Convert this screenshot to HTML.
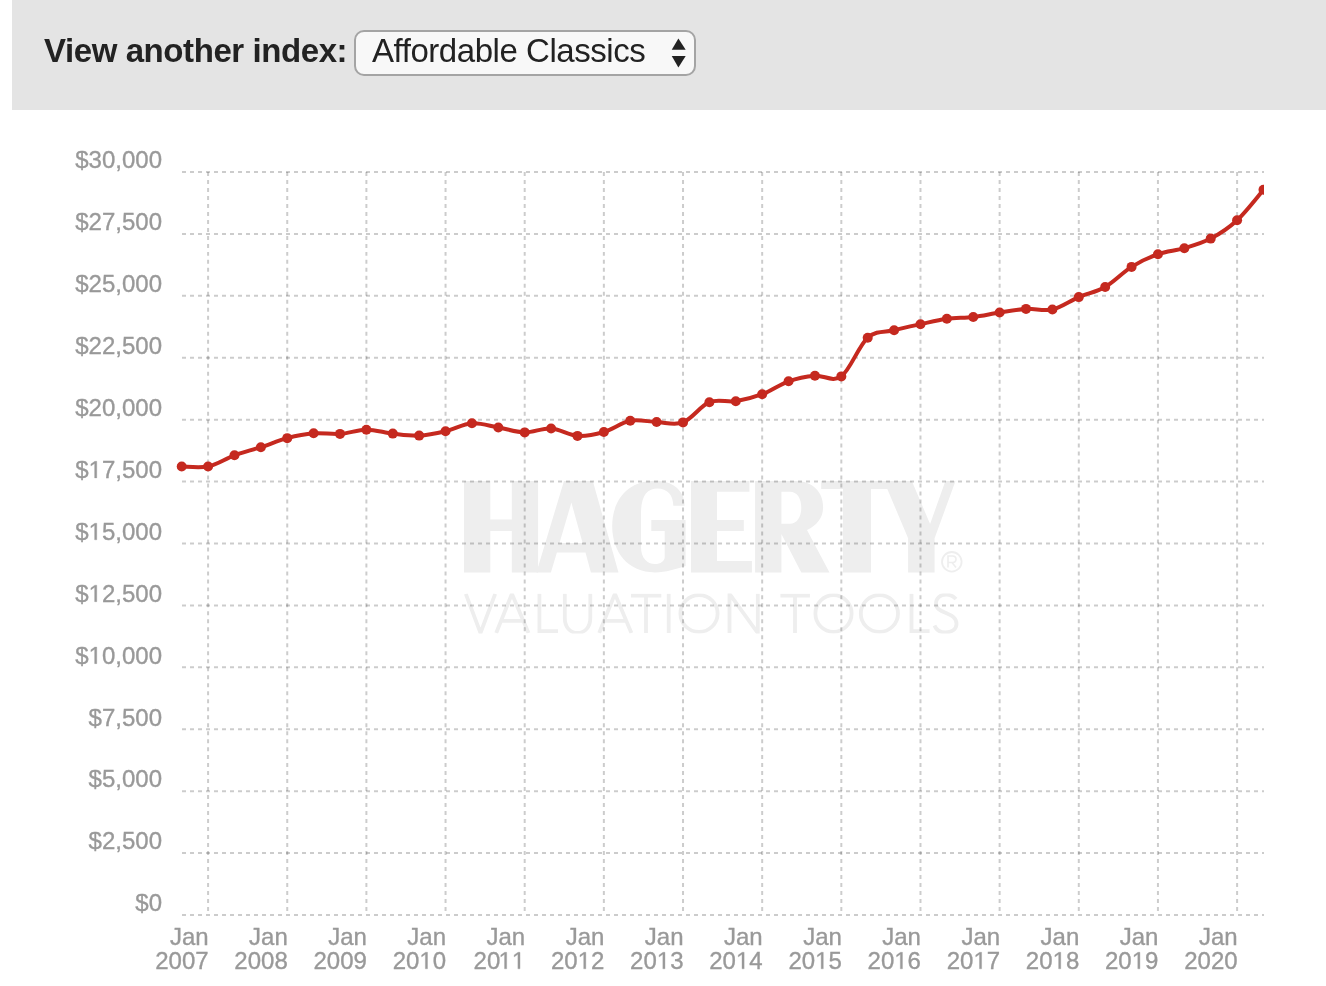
<!DOCTYPE html>
<html><head><meta charset="utf-8"><style>
html,body{margin:0;padding:0;background:#fff;width:1326px;height:986px;overflow:hidden;position:relative}
*{box-sizing:border-box}
.hdr{position:absolute;left:12px;top:0;width:1314px;height:110px;background:#e4e4e4}
.lbl{position:absolute;left:44px;top:32px;font:bold 33px "Liberation Sans",sans-serif;letter-spacing:-0.42px;color:#222;white-space:nowrap;line-height:38px;will-change:transform}
.sel{position:absolute;left:354px;top:30px;width:342px;height:46px;border:2px solid #a4a4a4;border-radius:10px;background:#f8f8f8}
.selt{position:absolute;left:372px;top:32px;font:33px "Liberation Sans",sans-serif;letter-spacing:-0.45px;color:#222;white-space:nowrap;line-height:38px;will-change:transform}
svg{position:absolute;left:0;top:0;will-change:transform}
.grid line{stroke:rgba(0,0,0,0.2);stroke-width:2;stroke-dasharray:4 4}
.grid line.v{stroke-dasharray:3.994 3.994}
.lab{font:24px "Liberation Sans",sans-serif;fill:#999;stroke:#999;stroke-width:0.35px}
.lab .h{fill:none;stroke:none}
.lab path{vector-effect:non-scaling-stroke}
</style></head><body>
<div class="hdr"></div>
<div class="lbl">View another index:</div>
<div class="sel"></div>
<div class="selt">Affordable Classics</div>
<svg width="1326" height="986" viewBox="0 0 1326 986">
 <polygon points="671.75,49.8 685.7,49.8 678.4,38.4" fill="#222"/>
 <polygon points="671.75,56 685.7,56 678.4,67.4" fill="#222"/>
 
<g fill="#eeeeee">
 <!-- H -->
 <path d="M464,481 H490.3 V519.6 H511.8 V481 H538.1 V572.4 H511.8 V531 H490.3 V572.4 H464 Z"/>
 <!-- A -->
 <path fill-rule="evenodd" d="M564,481 H592.8 L618.5,572.4 H590.9 L585.5,552.6 H556.9 L550.9,572.4 H536.4 Z M571.4,502.6 L582.6,542.9 H559.5 Z"/>
 <!-- G -->
 <path fill-rule="evenodd" d="M685.6,520.1 V566 C676,569 666,572.4 655,572.4 C628,572.4 612.2,552 612.2,526.3 C612.2,500 628,480.8 655,480.8 C672,480.8 684.6,490 684.6,505.8 H673.3 C673.3,495 667,488.5 657.7,488.5 C647,488.5 641,496 641,513.5 V546.8 C641,558 647,564.1 655.1,564.1 C660.5,564.1 664.7,561 664.7,557 V531 H651.3 V520.1 Z"/>
 <!-- E -->
 <path d="M691,481 H749.4 V491.7 H717 V520.1 H743.8 V531 H717 V560.9 H751.9 V572.4 H691 Z"/>
 <!-- R -->
 <path fill-rule="evenodd" d="M755.1,481 H795 C813,481 823.1,492 823.1,507 C823.1,518 817,525 807,530.1 L829.5,572.4 H801.3 L781.4,534 V572.4 H755.1 Z M781.4,491.7 V523.7 H790 C797,523.7 801.3,517 801.3,507.7 C801.3,498 797,491.7 790,491.7 Z"/>
 <!-- T Y -->
 <path d="M821.2,481 H911.8 L930.1,524 L945.4,481 H955.5 L934.6,538.2 V572.4 H908.1 V538.2 L887.3,489 H871 V572.4 H843 V489 H821.2 Z"/>
</g>
<circle cx="951.8" cy="561.8" r="9.8" fill="none" stroke="#eeeeee" stroke-width="1.8"/>
<path d="M948,567.5 V556 H952.5 C955,556 956,557.5 956,559.3 C956,561 955,562.5 952.5,562.5 H948 M952,562.5 L956,567.5" fill="none" stroke="#eeeeee" stroke-width="1.6"/>
<clipPath id="vt"><rect x="440" y="593.4" width="540" height="40"/></clipPath>
<g fill="none" stroke="#eeeeee" stroke-width="3.8" stroke-linejoin="miter" clip-path="url(#vt)">
 <path d="M465.8,593.8 L480.5,633 L495.2,593.8"/>
 <path d="M496.2,633 L511.9,593.8 L528.5,633 M502,620.9 H522"/>
 <path d="M539.4,593.8 V631.1 H558"/>
 <path d="M564.8,593.8 V618 C564.8,627 570,633 577.5,633 C585,633 590.3,627 590.3,618 V593.8"/>
 <path d="M599.2,633 L614.9,593.8 L631.4,633 M605,620.9 H625"/>
 <path d="M631,595.7 H661.3 M646,595.7 V633"/>
 <path d="M668.7,593.8 V633"/>
 <ellipse cx="699" cy="613.5" rx="18.6" ry="18.4"/>
 <path d="M729.5,633 V593.8 L757.8,633 V593.8"/>
 <path d="M780.4,595.7 H809.9 M795,595.7 V633"/>
 <ellipse cx="833.5" cy="613.5" rx="18.1" ry="18.4"/>
 <ellipse cx="879.4" cy="613.5" rx="18.6" ry="18.4"/>
 <path d="M911.5,593.8 V631.1 H929.6"/>
 <path d="M956,599 C953,595.5 949.5,594.5 946,594.5 C940,594.5 936,598.5 936,603.5 C936,608.5 940,610.5 946,613 C952,615.5 956.5,618 956.5,624 C956.5,629.5 951.5,632.5 945.5,632.5 C940,632.5 936,629.5 934.5,625.5"/>
</g>

 <g class="grid"><line x1="182.00" y1="172.00" x2="1264.00" y2="172.00"/><line x1="182.00" y1="233.92" x2="1264.00" y2="233.92"/><line x1="182.00" y1="295.83" x2="1264.00" y2="295.83"/><line x1="182.00" y1="357.75" x2="1264.00" y2="357.75"/><line x1="182.00" y1="419.67" x2="1264.00" y2="419.67"/><line x1="182.00" y1="481.58" x2="1264.00" y2="481.58"/><line x1="182.00" y1="543.50" x2="1264.00" y2="543.50"/><line x1="182.00" y1="605.42" x2="1264.00" y2="605.42"/><line x1="182.00" y1="667.33" x2="1264.00" y2="667.33"/><line x1="182.00" y1="729.25" x2="1264.00" y2="729.25"/><line x1="182.00" y1="791.17" x2="1264.00" y2="791.17"/><line x1="182.00" y1="853.08" x2="1264.00" y2="853.08"/><line x1="182.00" y1="915.00" x2="1264.00" y2="915.00"/><line class="v" x1="208.08" y1="172.00" x2="208.08" y2="915.00"/><line class="v" x1="287.24" y1="172.00" x2="287.24" y2="915.00"/><line class="v" x1="366.39" y1="172.00" x2="366.39" y2="915.00"/><line class="v" x1="445.55" y1="172.00" x2="445.55" y2="915.00"/><line class="v" x1="524.70" y1="172.00" x2="524.70" y2="915.00"/><line class="v" x1="603.86" y1="172.00" x2="603.86" y2="915.00"/><line class="v" x1="683.02" y1="172.00" x2="683.02" y2="915.00"/><line class="v" x1="762.17" y1="172.00" x2="762.17" y2="915.00"/><line class="v" x1="841.33" y1="172.00" x2="841.33" y2="915.00"/><line class="v" x1="920.48" y1="172.00" x2="920.48" y2="915.00"/><line class="v" x1="999.63" y1="172.00" x2="999.63" y2="915.00"/><line class="v" x1="1078.79" y1="172.00" x2="1078.79" y2="915.00"/><line class="v" x1="1157.94" y1="172.00" x2="1157.94" y2="915.00"/><line class="v" x1="1237.10" y1="172.00" x2="1237.10" y2="915.00"/></g>
 <g class="lab" text-anchor="end"><text x="162.00" y="168.30">$30,000</text><text x="162.00" y="230.22">$27,500</text><text x="162.00" y="292.13">$25,000</text><text x="162.00" y="354.05">$22,500</text><text x="162.00" y="415.97">$20,000</text><text x="162.00" y="477.88">$<tspan class="h">1</tspan>7,500</text><path transform="translate(88.594,477.883) scale(0.011719,-0.011719)" d="M515,0 V1237 L197,1010 V1180 L530,1409 H696 V0 Z"/><text x="162.00" y="539.80">$<tspan class="h">1</tspan>5,000</text><path transform="translate(88.594,539.800) scale(0.011719,-0.011719)" d="M515,0 V1237 L197,1010 V1180 L530,1409 H696 V0 Z"/><text x="162.00" y="601.72">$<tspan class="h">1</tspan>2,500</text><path transform="translate(88.594,601.717) scale(0.011719,-0.011719)" d="M515,0 V1237 L197,1010 V1180 L530,1409 H696 V0 Z"/><text x="162.00" y="663.63">$<tspan class="h">1</tspan>0,000</text><path transform="translate(88.594,663.633) scale(0.011719,-0.011719)" d="M515,0 V1237 L197,1010 V1180 L530,1409 H696 V0 Z"/><text x="162.00" y="725.55">$7,500</text><text x="162.00" y="787.47">$5,000</text><text x="162.00" y="849.38">$2,500</text><text x="162.00" y="911.30">$0</text></g>
 <g class="lab" text-anchor="end"><text x="208.58" y="944.8">Jan</text><text x="208.58" y="968.80">2007</text><text x="287.74" y="944.8">Jan</text><text x="287.74" y="968.80">2008</text><text x="366.89" y="944.8">Jan</text><text x="366.89" y="968.80">2009</text><text x="446.05" y="944.8">Jan</text><text x="446.05" y="968.80">20<tspan class="h">1</tspan>0</text><path transform="translate(419.355,968.800) scale(0.011719,-0.011719)" d="M515,0 V1237 L197,1010 V1180 L530,1409 H696 V0 Z"/><text x="525.20" y="944.8">Jan</text><text x="525.20" y="968.80">20<tspan class="h">1</tspan><tspan class="h">1</tspan></text><path transform="translate(498.510,968.800) scale(0.011719,-0.011719)" d="M515,0 V1237 L197,1010 V1180 L530,1409 H696 V0 Z"/><path transform="translate(511.857,968.800) scale(0.011719,-0.011719)" d="M515,0 V1237 L197,1010 V1180 L530,1409 H696 V0 Z"/><text x="604.36" y="944.8">Jan</text><text x="604.36" y="968.80">20<tspan class="h">1</tspan>2</text><path transform="translate(577.665,968.800) scale(0.011719,-0.011719)" d="M515,0 V1237 L197,1010 V1180 L530,1409 H696 V0 Z"/><text x="683.52" y="944.8">Jan</text><text x="683.52" y="968.80">20<tspan class="h">1</tspan>3</text><path transform="translate(656.820,968.800) scale(0.011719,-0.011719)" d="M515,0 V1237 L197,1010 V1180 L530,1409 H696 V0 Z"/><text x="762.67" y="944.8">Jan</text><text x="762.67" y="968.80">20<tspan class="h">1</tspan>4</text><path transform="translate(735.975,968.800) scale(0.011719,-0.011719)" d="M515,0 V1237 L197,1010 V1180 L530,1409 H696 V0 Z"/><text x="841.83" y="944.8">Jan</text><text x="841.83" y="968.80">20<tspan class="h">1</tspan>5</text><path transform="translate(815.130,968.800) scale(0.011719,-0.011719)" d="M515,0 V1237 L197,1010 V1180 L530,1409 H696 V0 Z"/><text x="920.98" y="944.8">Jan</text><text x="920.98" y="968.80">20<tspan class="h">1</tspan>6</text><path transform="translate(894.285,968.800) scale(0.011719,-0.011719)" d="M515,0 V1237 L197,1010 V1180 L530,1409 H696 V0 Z"/><text x="1000.13" y="944.8">Jan</text><text x="1000.13" y="968.80">20<tspan class="h">1</tspan>7</text><path transform="translate(973.440,968.800) scale(0.011719,-0.011719)" d="M515,0 V1237 L197,1010 V1180 L530,1409 H696 V0 Z"/><text x="1079.29" y="944.8">Jan</text><text x="1079.29" y="968.80">20<tspan class="h">1</tspan>8</text><path transform="translate(1052.595,968.800) scale(0.011719,-0.011719)" d="M515,0 V1237 L197,1010 V1180 L530,1409 H696 V0 Z"/><text x="1158.44" y="944.8">Jan</text><text x="1158.44" y="968.80">20<tspan class="h">1</tspan>9</text><path transform="translate(1131.750,968.800) scale(0.011719,-0.011719)" d="M515,0 V1237 L197,1010 V1180 L530,1409 H696 V0 Z"/><text x="1237.60" y="944.8">Jan</text><text x="1237.60" y="968.80">2020</text></g>
 <defs><clipPath id="cp"><rect x="170" y="150" width="1094" height="790"/></clipPath></defs>
 <g clip-path="url(#cp)">
  <path d="M181.70,466.50 C186.10,466.50 199.29,468.37 208.08,466.50 C216.88,464.63 225.67,458.52 234.47,455.30 C243.26,452.08 252.06,450.06 260.86,447.20 C269.65,444.34 278.44,440.47 287.24,438.15 C296.04,435.83 304.83,434.01 313.62,433.30 C322.42,432.59 331.21,434.50 340.01,433.90 C348.81,433.30 357.60,429.75 366.39,429.70 C375.19,429.65 383.98,432.62 392.78,433.60 C401.57,434.58 410.37,436.00 419.16,435.60 C427.96,435.20 436.76,433.25 445.55,431.20 C454.35,429.15 463.14,423.92 471.94,423.30 C480.73,422.68 489.53,425.98 498.32,427.50 C507.12,429.02 515.91,432.23 524.70,432.40 C533.50,432.57 542.29,427.92 551.09,428.50 C559.88,429.08 568.68,435.32 577.48,435.90 C586.27,436.48 595.07,434.52 603.86,432.00 C612.65,429.48 621.45,422.47 630.25,420.80 C639.04,419.13 647.83,421.73 656.63,422.00 C665.43,422.27 674.22,425.70 683.02,422.40 C691.81,419.10 700.61,405.73 709.40,402.20 C718.20,398.67 726.99,402.53 735.79,401.20 C744.58,399.87 753.38,397.52 762.17,394.20 C770.97,390.88 779.76,384.38 788.56,381.30 C797.35,378.22 806.15,376.52 814.94,375.70 C823.74,374.88 832.53,382.73 841.33,376.40 C850.12,370.07 858.91,345.40 867.71,337.70 C876.51,330.00 885.30,332.45 894.10,330.20 C902.89,327.95 911.69,326.10 920.48,324.20 C929.27,322.30 938.07,320.00 946.87,318.80 C955.66,317.60 964.45,318.05 973.25,317.00 C982.05,315.95 990.84,313.85 999.63,312.50 C1008.43,311.15 1017.23,309.40 1026.02,308.90 C1034.81,308.40 1043.61,311.47 1052.40,309.50 C1061.20,307.53 1069.99,300.85 1078.79,297.10 C1087.59,293.35 1096.38,292.03 1105.17,287.00 C1113.97,281.97 1122.77,272.37 1131.56,266.90 C1140.35,261.43 1149.15,257.32 1157.94,254.20 C1166.74,251.08 1175.54,250.80 1184.33,248.20 C1193.13,245.60 1201.92,243.27 1210.72,238.60 C1219.51,233.93 1228.31,228.33 1237.10,220.20 C1245.90,212.07 1259.09,194.87 1263.49,189.80" fill="none" stroke="#c5291f" stroke-width="4" stroke-linejoin="round"/>
  <g fill="#c5291f"><circle cx="181.70" cy="466.50" r="5"/><circle cx="208.08" cy="466.50" r="5"/><circle cx="234.47" cy="455.30" r="5"/><circle cx="260.86" cy="447.20" r="5"/><circle cx="287.24" cy="438.15" r="5"/><circle cx="313.62" cy="433.30" r="5"/><circle cx="340.01" cy="433.90" r="5"/><circle cx="366.39" cy="429.70" r="5"/><circle cx="392.78" cy="433.60" r="5"/><circle cx="419.16" cy="435.60" r="5"/><circle cx="445.55" cy="431.20" r="5"/><circle cx="471.94" cy="423.30" r="5"/><circle cx="498.32" cy="427.50" r="5"/><circle cx="524.70" cy="432.40" r="5"/><circle cx="551.09" cy="428.50" r="5"/><circle cx="577.48" cy="435.90" r="5"/><circle cx="603.86" cy="432.00" r="5"/><circle cx="630.25" cy="420.80" r="5"/><circle cx="656.63" cy="422.00" r="5"/><circle cx="683.02" cy="422.40" r="5"/><circle cx="709.40" cy="402.20" r="5"/><circle cx="735.79" cy="401.20" r="5"/><circle cx="762.17" cy="394.20" r="5"/><circle cx="788.56" cy="381.30" r="5"/><circle cx="814.94" cy="375.70" r="5"/><circle cx="841.33" cy="376.40" r="5"/><circle cx="867.71" cy="337.70" r="5"/><circle cx="894.10" cy="330.20" r="5"/><circle cx="920.48" cy="324.20" r="5"/><circle cx="946.87" cy="318.80" r="5"/><circle cx="973.25" cy="317.00" r="5"/><circle cx="999.63" cy="312.50" r="5"/><circle cx="1026.02" cy="308.90" r="5"/><circle cx="1052.40" cy="309.50" r="5"/><circle cx="1078.79" cy="297.10" r="5"/><circle cx="1105.17" cy="287.00" r="5"/><circle cx="1131.56" cy="266.90" r="5"/><circle cx="1157.94" cy="254.20" r="5"/><circle cx="1184.33" cy="248.20" r="5"/><circle cx="1210.72" cy="238.60" r="5"/><circle cx="1237.10" cy="220.20" r="5"/><circle cx="1263.49" cy="189.80" r="5"/></g>
 </g>
</svg>
</body></html>
